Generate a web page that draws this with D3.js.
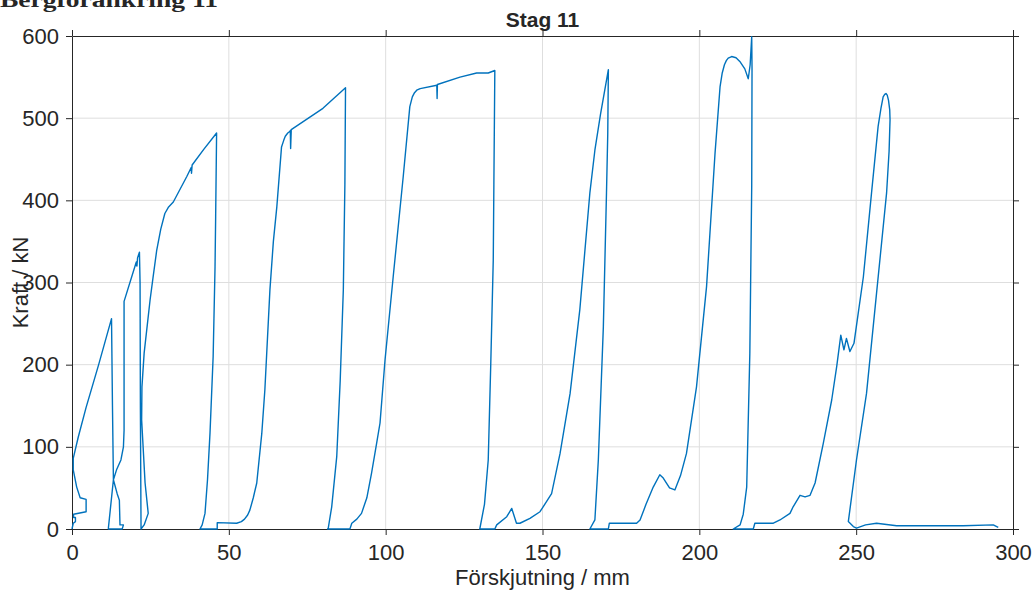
<!DOCTYPE html>
<html>
<head>
<meta charset="utf-8">
<script src="https://cdn.jsdelivr.net/npm/d3@7"></script>
<style>
  body { margin: 0; background: #fff; }
  svg { display: block; }
  text { font-family: "Liberation Sans", Arial, Helvetica, sans-serif; fill: #262626; }
</style>
</head>
<body>
<div id="chart"></div>
<script>
// displacement (mm) / force (kN), one array per load cycle
const cycle1 = [[0,0],[0.4,7],[1.1,9],[1.1,14],[0.5,14],[0.5,18],[4.5,21],[4.5,36],[2.6,38],[1.5,51],[0.4,72],[0.4,86],
  [2,112],[4.5,148],[8.5,200],[12.6,256],[12.9,150],[13.2,60],[14.4,43],[15.1,35],[15.3,5],[16.4,5],[16,0],[11.6,0],
  [11.6,1],[13.2,60],[14.2,72],[15.6,84],[16.4,100],[16.6,120],[16.6,277],[20.5,325],[20.7,320],[20.9,330],[21.5,337]]
const cycle2 = [[21.7,300],[21.8,150],[22,7],[22,0],[23,5],[24.3,19],[23.3,56],[22.2,133],[22.3,173],[23,214],[24.9,279],
  [25.8,305],[27,339],[28.3,365],[29.6,384],[30.8,392],[32.3,398],[36.6,429],[38,440],[38.1,433],[38.3,443],[42,462],[46.1,482]]
const cycle3 = [[45.8,380],[45.6,319],[45,210],[44,117],[43.2,60],[42.4,19],[41.5,5],[40.8,0],[46.3,0],[46.3,7.7],[52.5,7],
  [54,9],[55,12],[56,17],[56.7,23],[57.8,38],[58.9,56],[60.5,116],[61.5,170],[63.1,291],[64.2,350],[65.3,392],[66.8,465],
  [67.5,473],[68,478],[68.8,482],[69.5,484],[69.6,485],[69.7,463],[69.9,486],[80,512],[87.2,537]]
const cycle4 = [[87,420],[86.5,291],[85.5,180],[84.4,88],[82.8,27],[81.7,1],[81.5,0],[88.6,0],[89.2,7],[90.8,12],[92.3,19],
  [94,38],[95.5,68],[97.1,104],[98.2,129],[99.8,206],[102.4,307],[105.6,429],[107.7,514],[108.5,526],[109.2,531],
  [109.9,534],[111,536],[116.3,540],[116.4,524],[116.5,541],[123.7,550],[129,555],[132.7,555],[134.8,558]]
const cycle5 = [[134.5,420],[134.3,327],[133.5,200],[132.7,84],[131.5,30],[130,0],[134.8,0],[135.4,5],[138.6,15],[140.2,25],
  [141.7,7],[142.8,7],[146,13],[149.2,21],[150.2,27],[152.9,43],[155.6,92],[158.8,165],[161.9,267],[165.1,409],
  [166.7,461],[168.5,505],[171,559]]
const cycle6 = [[170.8,480],[170.4,409],[169.4,246],[167.8,84],[166.7,11],[165.1,0],[171,0],[171.3,7],[180,7],[181.1,11],
  [183,30],[185.3,51],[187.4,66],[188.5,62],[190.5,50],[192.2,47.5],[194,65],[195.9,92],[199.1,173],[202.3,295],
  [205,457],[206.6,538],[207.3,555],[208,565],[208.6,570],[209.2,573],[210.3,575],[211.7,573.5],[212.9,569],[214.5,560],
  [215.6,548],[216.2,565],[216.7,599]]
const cycle7 = [[216.8,560],[216.7,417],[216.1,214],[215.1,51],[214,18],[213,5],[210.8,0],[217.2,0],[217.7,7],[223.6,7],
  [225.7,11],[228.9,19],[229.9,27],[232.1,41],[233.7,39],[235.3,41],[236.9,56],[239.5,104],[242.2,157],[243.8,198],
  [245.1,236],[246.1,218],[246.9,232],[248,216],[249.3,226],[252.3,307],[254.9,409],[257,490],[257.9,512],[258.6,526],
  [259.1,529],[259.5,530],[259.9,528],[260.3,522],[260.7,510],[260.8,498],[260.5,460],[259.7,409],[256.5,287],
  [253.3,165],[250.1,84],[247.5,9],[249.1,3],[250.1,1],[253,5],[256.5,7],[262.9,4],[284.1,4],[293.7,5],[295.3,2]]

const xTicks = [0, 50, 100, 150, 200, 250, 300]
const yTicks = [0, 100, 200, 300, 400, 500, 600]

const title = "Stag 11"
const header = "Bergförankring 11"
const xLabel = "Förskjutning / mm"
const yLabel = "Kraft / kN"

const width = 1036, height = 593
const margin = {top: 36, right: 23, bottom: 64, left: 72}
const fontSize = 22
const lineColor = "#0072bd"
const axisColor = "#262626"

const svg = d3.select("#chart").append("svg")
  .attr("width", width)
  .attr("height", height)

const x = d3.scaleLinear().domain([0, 300]).range([margin.left, width - margin.right])
const y = d3.scaleLinear().domain([0, 600]).range([height - margin.bottom, margin.top])

// grid
const grid = svg.append("g").attr("stroke", "#dedede").attr("stroke-width", 1)
grid.selectAll("line.gx").data(xTicks.slice(1, -1)).join("line")
  .attr("x1", d => x(d)).attr("x2", d => x(d))
  .attr("y1", y(0)).attr("y2", y(600))
grid.selectAll("line.gy").data(yTicks.slice(1, -1)).join("line")
  .attr("x1", x(0)).attr("x2", x(300))
  .attr("y1", d => y(d)).attr("y2", d => y(d))

// box axes, ticks out
function styleAxis(g) {
  g.select(".domain").attr("stroke", axisColor)
  g.selectAll(".tick line").attr("stroke", axisColor)
  g.selectAll(".tick text")
    .style("font-family", '"Liberation Sans", Arial, sans-serif')
    .attr("font-size", fontSize).attr("fill", axisColor)
}

svg.append("g")
  .attr("transform", `translate(0,${y(0)})`)
  .call(d3.axisBottom(x).tickValues(xTicks).tickSize(6).tickSizeOuter(0).tickPadding(9))
  .call(styleAxis)
svg.append("g")
  .attr("transform", `translate(0,${y(600)})`)
  .call(d3.axisTop(x).tickValues(xTicks).tickSize(6).tickSizeOuter(0).tickFormat(""))
  .call(styleAxis)
svg.append("g")
  .attr("transform", `translate(${x(0)},0)`)
  .call(d3.axisLeft(y).tickValues(yTicks).tickSize(6).tickSizeOuter(0).tickPadding(7))
  .call(styleAxis)
svg.append("g")
  .attr("transform", `translate(${x(300)},0)`)
  .call(d3.axisRight(y).tickValues(yTicks).tickSize(6).tickSizeOuter(0).tickFormat(""))
  .call(styleAxis)

// the force-displacement trace
const points = [].concat(cycle1, cycle2, cycle3, cycle4, cycle5, cycle6, cycle7)
const line = d3.line().x(d => x(d[0])).y(d => y(d[1]))
svg.append("path")
  .datum(points)
  .attr("fill", "none")
  .attr("stroke", lineColor)
  .attr("stroke-width", 1.4)
  .attr("stroke-linejoin", "round")
  .attr("d", line)

// labels
svg.append("text")
  .attr("x", (x(0) + x(300)) / 2).attr("y", 27)
  .attr("text-anchor", "middle")
  .attr("font-size", fontSize - 1).attr("font-weight", "bold")
  .text(title)

svg.append("text")
  .attr("x", (x(0) + x(300)) / 2).attr("y", 585)
  .attr("text-anchor", "middle")
  .attr("font-size", fontSize)
  .text(xLabel)

svg.append("text")
  .attr("transform", `translate(28,${(y(0) + y(600)) / 2}) rotate(-90)`)
  .attr("text-anchor", "middle")
  .attr("font-size", fontSize)
  .text(yLabel)

// page heading, cut off at the top of the picture as in the source
svg.append("text")
  .attr("x", 0).attr("y", 7)
  .style("font-family", '"Liberation Serif", "DejaVu Serif", serif')
  .attr("font-size", 22).attr("font-weight", "bold")
  .attr("fill", "#000")
  .attr("textLength", 218).attr("lengthAdjust", "spacingAndGlyphs")
  .text(header)
</script>
</body>
</html>
